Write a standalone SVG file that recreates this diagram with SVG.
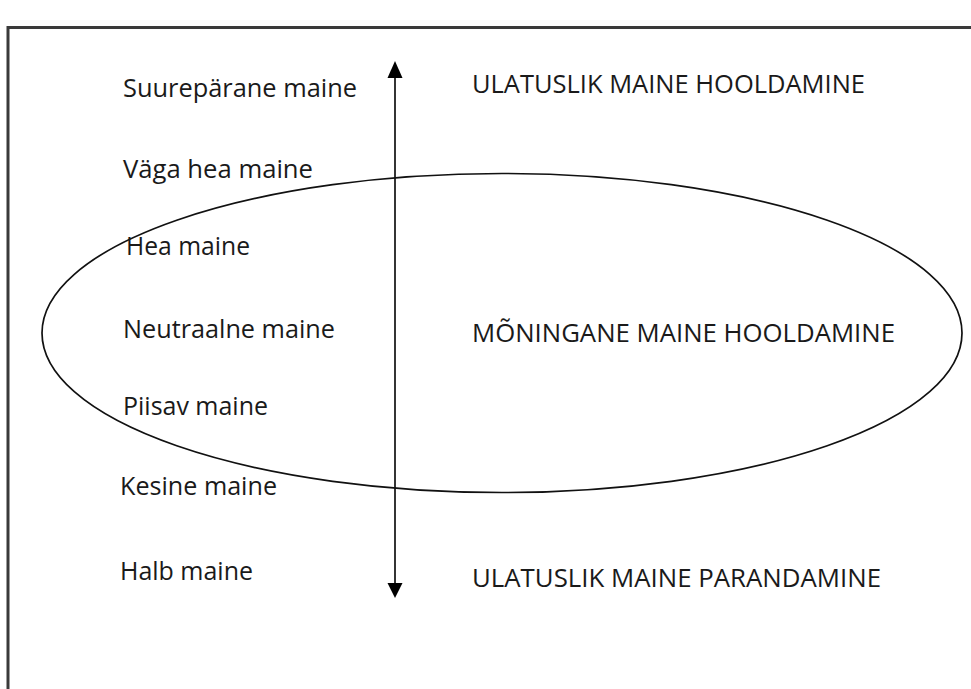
<svg xmlns="http://www.w3.org/2000/svg" width="971" height="689" viewBox="0 0 971 689">
<defs>
<style>
.t{font-family:"Open Sans","Liberation Sans",sans-serif;font-size:25.5px;fill:#1a1a1a}
.ln{stroke:#111;stroke-width:1.7;fill:none}
</style>
</defs>
<rect width="971" height="689" fill="#fff"/>
<g id="frame"><path d="M8,700 L8,27.5 L980,27.5" fill="none" stroke="#3a3a3a" stroke-width="3"/></g>
<g id="ellipse"><ellipse cx="502" cy="333" rx="460" ry="159.5" class="ln"/></g>
<g id="connectors">
<line x1="395" y1="78" x2="395" y2="583" class="ln"/>
<path d="M395,61 L387.5,78 L402.5,78 z" fill="#000"/>
<path d="M395,598 L387.5,583 L402.5,583 z" fill="#000"/>
</g>
<g id="levels">
<text class="t" x="123" y="97" textLength="234" lengthAdjust="spacingAndGlyphs">Suurepärane maine</text>
<text class="t" x="123" y="178" textLength="190" lengthAdjust="spacingAndGlyphs">Väga hea maine</text>
<text class="t" x="126" y="255" textLength="124" lengthAdjust="spacingAndGlyphs">Hea maine</text>
<text class="t" x="123" y="338" textLength="212" lengthAdjust="spacingAndGlyphs">Neutraalne maine</text>
<text class="t" x="123" y="415" textLength="145" lengthAdjust="spacingAndGlyphs">Piisav maine</text>
<text class="t" x="120" y="495" textLength="157" lengthAdjust="spacingAndGlyphs">Kesine maine</text>
<text class="t" x="120" y="580" textLength="133" lengthAdjust="spacingAndGlyphs">Halb maine</text>
</g>
<g id="actions">
<text class="t" x="472" y="93" textLength="393" lengthAdjust="spacingAndGlyphs">ULATUSLIK MAINE HOOLDAMINE</text>
<text class="t" x="472" y="342" textLength="423" lengthAdjust="spacingAndGlyphs">MÕNINGANE MAINE HOOLDAMINE</text>
<text class="t" x="472" y="587" textLength="409" lengthAdjust="spacingAndGlyphs">ULATUSLIK MAINE PARANDAMINE</text>
</g>
</svg>
